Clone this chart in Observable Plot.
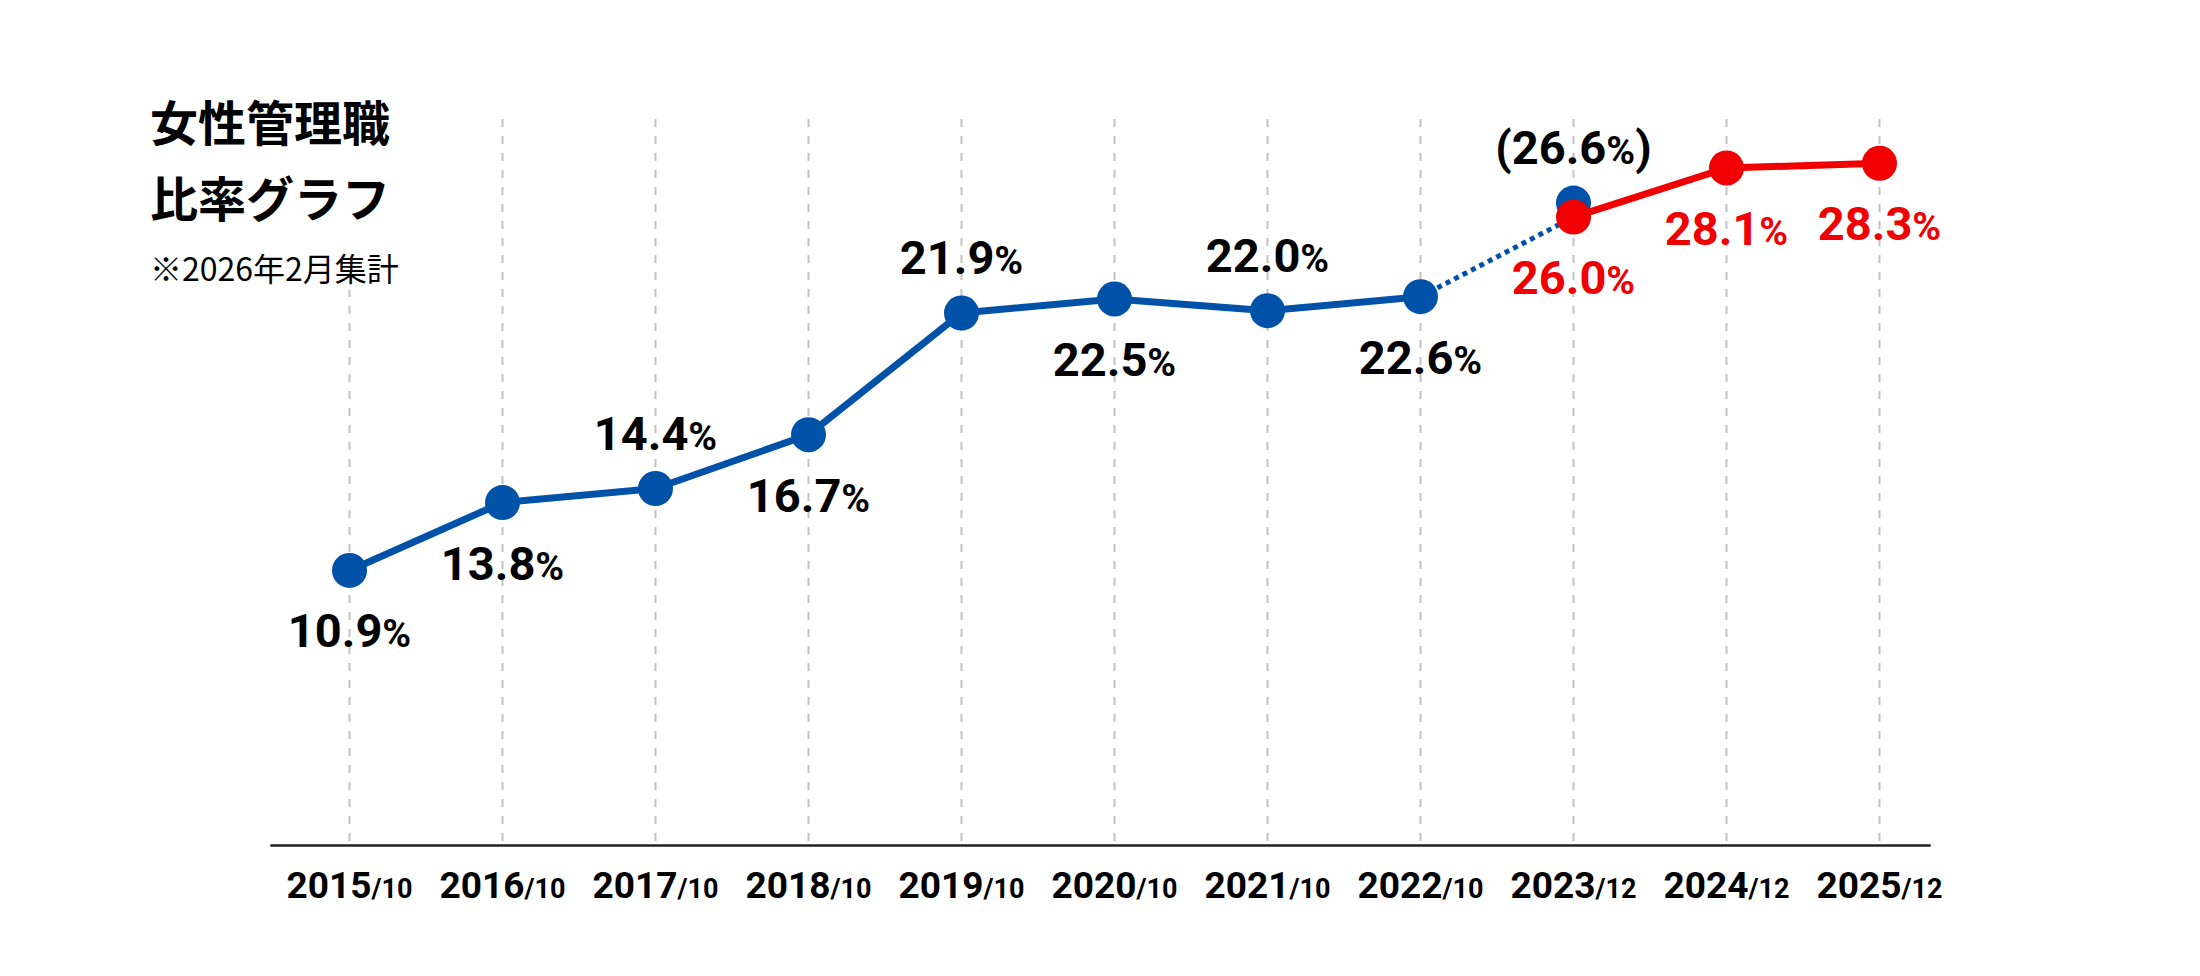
<!DOCTYPE html>
<html>
<head>
<meta charset="utf-8">
<script src="https://cdn.jsdelivr.net/npm/d3@7"></script>
<script src="https://cdn.jsdelivr.net/npm/@observablehq/plot@0.6"></script>
<style>
  html, body { margin: 0; padding: 0; background: #fff; }
  #wrap { position: relative; width: 2200px; height: 976px; overflow: hidden; background: #fff; }
  #chart { position: absolute; left: 0; top: 0; }
  #title { position: absolute; left: 148px; top: 94px; width: 262px; height: 196px; background: #fff; z-index: 2;
           font-family: "Noto Sans CJK JP", "Noto Sans", sans-serif; color: #000; }
  #title div { position: absolute; left: 2px; white-space: nowrap; }
  .t1 { top: 2px; font-size: 48px; line-height: 48px; font-weight: 700; }
  .t2 { top: 78px; font-size: 48px; line-height: 48px; font-weight: 700; }
  .t3 { top: 157px; font-size: 32px; line-height: 32px; font-weight: 400; }
</style>
</head>
<body>
<div id="wrap">
  <div id="chart"></div>
  <div id="title">
    <div class="t1">女性管理職</div>
    <div class="t2">比率グラフ</div>
    <div class="t3">※2026年2月集計</div>
  </div>
</div>
<script>
// ---- data ----
const periods = ["2015/10","2016/10","2017/10","2018/10","2019/10","2020/10","2021/10","2022/10","2023/12","2024/12","2025/12"];

const bluePeriods = ["2015/10","2016/10","2017/10","2018/10","2019/10","2020/10","2021/10","2022/10"];
const blueValues  = [10.9, 13.8, 14.4, 16.7, 21.9, 22.5, 22.0, 22.6];
const blueLabelSide = ["below","below","above","below","above","below","above","below"];

const oldBasisPeriods = ["2023/12"];
const oldBasisValues  = [26.6];

const redPeriods = ["2023/12","2024/12","2025/12"];
const redValues  = [26.0, 28.1, 28.3];
const redLabelSide = ["below","below","below"];

// ---- colors ----
const BLUE = "#0051a8";
const RED = "#f00000";

// ---- derived tables ----
const blue = bluePeriods.map((p, i) => ({period: p, value: blueValues[i], side: blueLabelSide[i], label: blueValues[i].toFixed(1) + "%"}));
const oldBasis = oldBasisPeriods.map((p, i) => ({period: p, value: oldBasisValues[i], side: "above", label: "(" + oldBasisValues[i].toFixed(1) + "%)"}));
const red = redPeriods.map((p, i) => ({period: p, value: redValues[i], side: redLabelSide[i], label: redValues[i].toFixed(1) + "%"}));
const bridge = [blue[blue.length - 1], red[0]];

const SVGNS = "http://www.w3.org/2000/svg";
function tspan(parent, txt, size) {
  const t = document.createElementNS(SVGNS, "tspan");
  t.textContent = txt;
  if (size) t.setAttribute("font-size", size);
  parent.appendChild(t);
}
// make "%" smaller
function pctRender(smallSize) {
  return (index, scales, values, dimensions, context, next) => {
    const g = next(index, scales, values, dimensions, context);
    for (const t of g.querySelectorAll("text")) {
      const s = t.textContent;
      const i = s.indexOf("%");
      if (i < 0) continue;
      t.textContent = "";
      tspan(t, s.slice(0, i));
      tspan(t, "%", smallSize);
      if (i + 1 < s.length) tspan(t, s.slice(i + 1));
    }
    return g;
  };
}
// make "/MM" smaller
function periodRender(smallSize) {
  return (index, scales, values, dimensions, context, next) => {
    const g = next(index, scales, values, dimensions, context);
    for (const t of g.querySelectorAll("text")) {
      const s = t.textContent;
      const i = s.indexOf("/");
      if (i < 0) continue;
      t.textContent = "";
      tspan(t, s.slice(0, i));
      tspan(t, s.slice(i), smallSize);
    }
    return g;
  };
}

const ABOVE = -54, BELOW = 62;
function labels(data, color) {
  return [
    Plot.text(data.filter(d => d.side === "above"), {x: "period", y: "value", text: "label", dy: ABOVE,
      fill: color, fontSize: 47, fontWeight: 700, lineAnchor: "middle", render: pctRender(39)}),
    Plot.text(data.filter(d => d.side === "below"), {x: "period", y: "value", text: "label", dy: BELOW,
      fill: color, fontSize: 47, fontWeight: 700, lineAnchor: "middle", render: pctRender(39)})
  ];
}

const chart = Plot.plot({
  width: 2200,
  height: 976,
  marginLeft: 271,
  marginRight: 271,
  marginTop: 119,
  marginBottom: 131,
  x: {type: "point", domain: periods, padding: 0, insetLeft: 77, insetRight: 50, axis: null},
  y: {domain: [0, 30], insetTop: 4, insetBottom: 20, axis: null},
  style: {background: "#fff", fontFamily: "Roboto, 'Noto Sans', sans-serif", color: "#000"},
  marks: [
    Plot.ruleX(periods, {x: d => d, stroke: "#c2c2c2", strokeWidth: 2, strokeDasharray: "8,9"}),
    Plot.frame({anchor: "bottom", stroke: "#222", strokeWidth: 2.5}),
    Plot.text(periods, {x: d => d, frameAnchor: "bottom", dy: 41, text: d => d, fill: "#000",
      fontSize: 37, fontWeight: 700, lineAnchor: "middle", render: periodRender(27)}),
    Plot.line(blue, {x: "period", y: "value", stroke: BLUE, strokeWidth: 7}),
    Plot.line(bridge, {x: "period", y: "value", stroke: BLUE, strokeWidth: 5, strokeDasharray: "5,4.5", strokeLinecap: "butt"}),
    Plot.dot(blue, {x: "period", y: "value", r: 17.5, fill: BLUE}),
    Plot.dot(oldBasis, {x: "period", y: "value", r: 17.5, fill: BLUE}),
    Plot.line(red, {x: "period", y: "value", stroke: RED, strokeWidth: 7}),
    Plot.dot(red, {x: "period", y: "value", r: 17.5, fill: RED}),
    ...labels(blue, "#000"),
    ...labels(oldBasis, "#000"),
    ...labels(red, RED)
  ]
});
document.getElementById("chart").appendChild(chart);
</script>
</body>
</html>
